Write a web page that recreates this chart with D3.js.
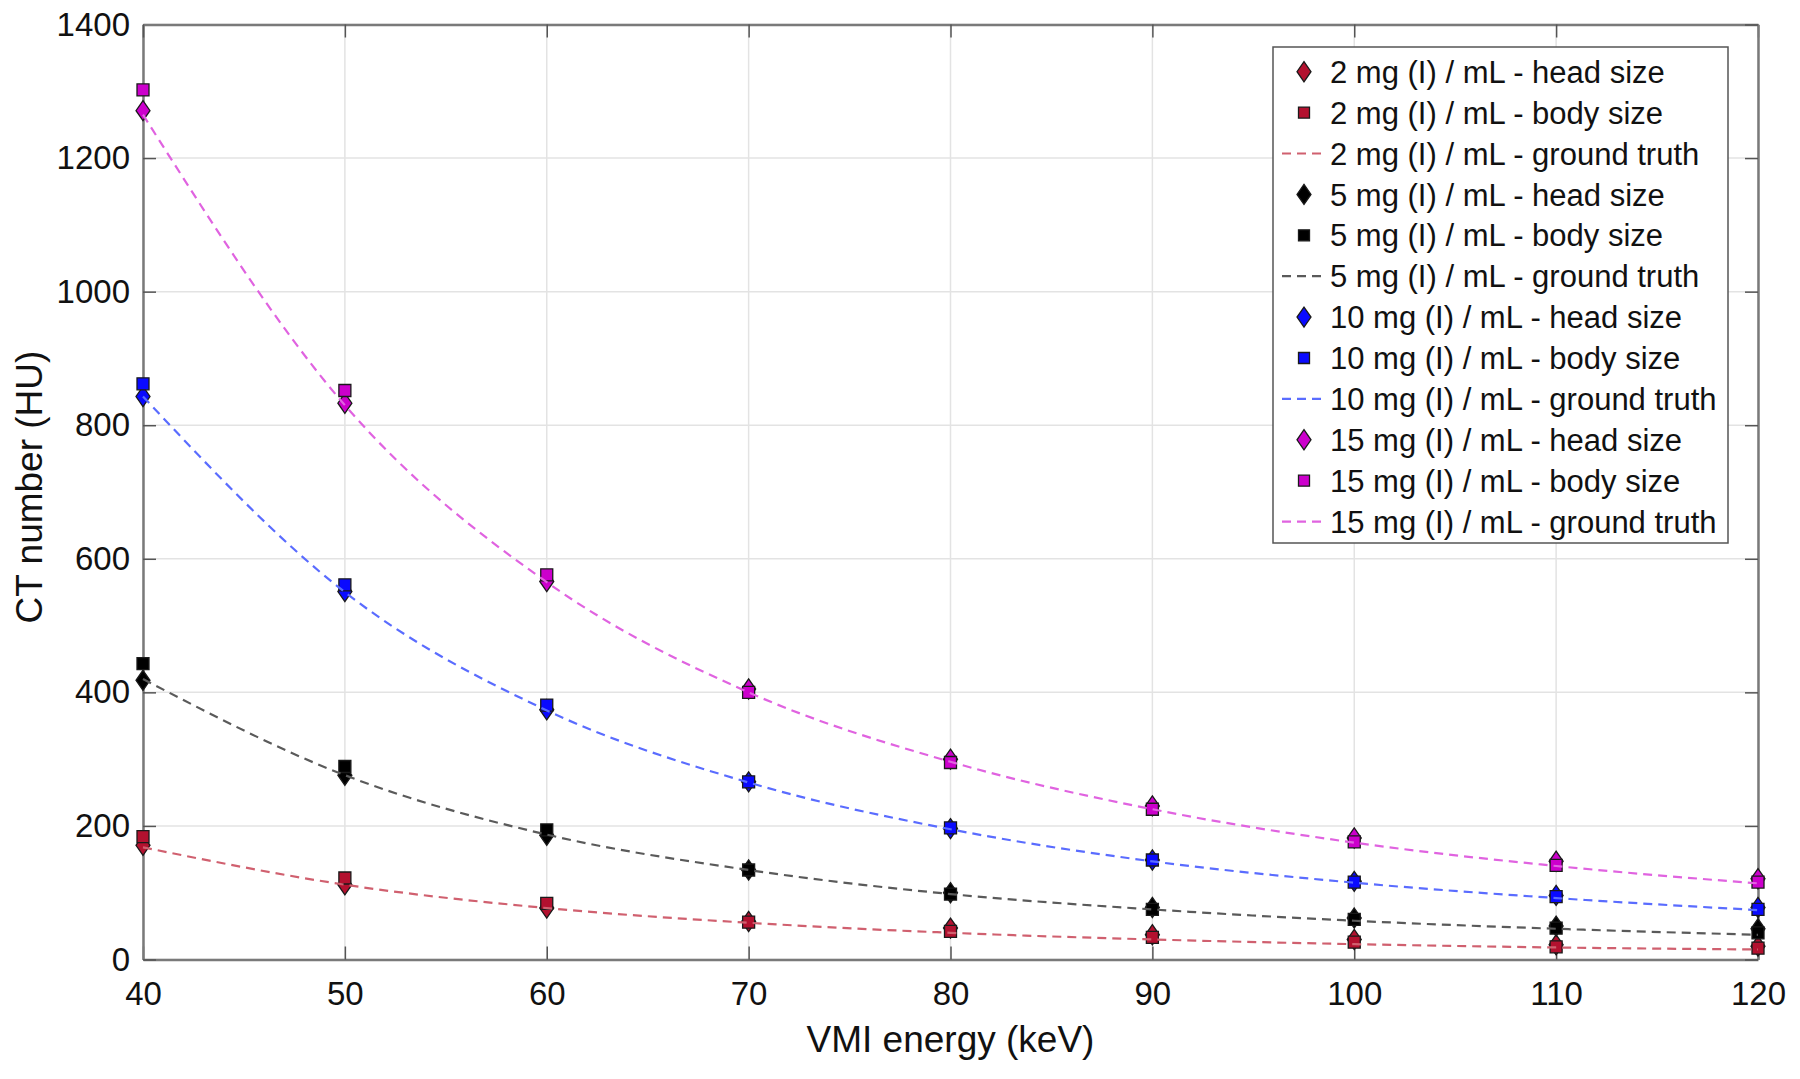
<!DOCTYPE html>
<html>
<head>
<meta charset="utf-8">
<script src="https://cdn.jsdelivr.net/npm/d3@7/dist/d3.min.js"></script>
<style>
  html, body { margin: 0; padding: 0; background: #ffffff; }
  svg { display: block; }
  text { font-family: "Liberation Sans", Arial, Helvetica, sans-serif; fill: #111; }
</style>
</head>
<body>
<svg id="chart" width="1800" height="1079"></svg>
<script>
// ---------------- DATA ----------------
const energies = [40, 50, 60, 70, 80, 90, 100, 110, 120];
const xTicks = [40, 50, 60, 70, 80, 90, 100, 110, 120];
const yTicks = [0, 200, 400, 600, 800, 1000, 1200, 1400];

const head2  = [171, 112, 77, 57, 47, 37, 30, 22, 20];
const body2  = [184, 122, 84, 56, 42, 33, 26, 19, 17];
const truth2 = [168, 112, 77, 55, 40, 30, 23, 18, 15];

const head5  = [418, 276, 186, 134, 100, 78, 62, 50, 46];
const body5  = [443, 289, 194, 134, 98, 75, 60, 47, 40];
const truth5 = [420, 276, 187, 134, 98, 75, 58, 46, 37];

const head10  = [843, 551, 374, 266, 196, 149, 117, 96, 78];
const body10  = [862, 561, 381, 266, 197, 149, 116, 94, 75];
const truth10 = [843, 550, 373, 265, 195, 147, 115, 92, 74];

const head15  = [1271, 833, 566, 405, 300, 230, 182, 147, 121];
const body15  = [1302, 852, 576, 400, 295, 225, 176, 141, 116];
const truth15 = [1265, 830, 565, 400, 296, 225, 175, 140, 114];

const seriesLabels = [
  "2 mg (I) / mL - head size", "2 mg (I) / mL - body size", "2 mg (I) / mL - ground truth",
  "5 mg (I) / mL - head size", "5 mg (I) / mL - body size", "5 mg (I) / mL - ground truth",
  "10 mg (I) / mL - head size", "10 mg (I) / mL - body size", "10 mg (I) / mL - ground truth",
  "15 mg (I) / mL - head size", "15 mg (I) / mL - body size", "15 mg (I) / mL - ground truth"
];
const xTitle = "VMI energy (keV)";
const yTitle = "CT number (HU)";

// ---------------- STYLE / LAYOUT ----------------
const groups = [
  { head: head2,  body: body2,  truth: truth2,  fill: "#b3112f", line: "#d0606f" },
  { head: head5,  body: body5,  truth: truth5,  fill: "#000000", line: "#5a5a5a" },
  { head: head10, body: body10, truth: truth10, fill: "#0a0aff", line: "#5a6cff" },
  { head: head15, body: body15, truth: truth15, fill: "#cc00cc", line: "#e063e0" }
];

const L = 143, R = 1758, T = 24.5, B = 959.5;
const svg = d3.select("#chart");

const x = d3.scaleLinear().domain([40, 120]).range([L, R]);
const y = d3.scaleLinear().domain([0, 1400]).range([B, T]);

// background
svg.append("rect").attr("x", L).attr("y", T).attr("width", R - L).attr("height", B - T).attr("fill", "#fff");

// grid
const grid = svg.append("g").attr("class", "grid");
grid.selectAll("line.gx").data(xTicks).join("line")
  .attr("x1", d => x(d)).attr("x2", d => x(d)).attr("y1", T).attr("y2", B)
  .attr("stroke", "#e3e3e3").attr("stroke-width", 1.5);
grid.selectAll("line.gy").data(yTicks).join("line")
  .attr("y1", d => y(d)).attr("y2", d => y(d)).attr("x1", L).attr("x2", R)
  .attr("stroke", "#e3e3e3").attr("stroke-width", 1.5);

// axes
const axisColor = "#7a7a7a";
const xAxis = svg.append("g").attr("transform", `translate(0,${B})`)
  .call(d3.axisBottom(x).tickValues(xTicks).tickSizeInner(-13).tickSizeOuter(0).tickPadding(22).tickFormat(d3.format("d")));
const yAxis = svg.append("g").attr("transform", `translate(${L},0)`)
  .call(d3.axisLeft(y).tickValues(yTicks).tickSizeInner(-13).tickSizeOuter(0).tickPadding(13).tickFormat(d3.format("d")));
const xTop = svg.append("g").attr("transform", `translate(0,${T})`)
  .call(d3.axisTop(x).tickValues(xTicks).tickSizeInner(-13).tickSizeOuter(0).tickFormat(""));
const yRight = svg.append("g").attr("transform", `translate(${R},0)`)
  .call(d3.axisRight(y).tickValues(yTicks).tickSizeInner(-13).tickSizeOuter(0).tickFormat(""));

[xAxis, yAxis, xTop, yRight].forEach(g => {
  g.select(".domain").attr("stroke", axisColor).attr("stroke-width", 2.5);
  g.selectAll(".tick line").attr("stroke", "#555").attr("stroke-width", 1.5);
  g.selectAll(".tick text").style("font-family", "'Liberation Sans', Arial, sans-serif")
    .style("font-size", "33px").attr("fill", "#111");
});
xAxis.selectAll(".tick text").attr("dy", "0.71em");

// axis titles
svg.append("text").attr("x", (L + R) / 2).attr("y", 1052).attr("text-anchor", "middle")
  .style("font-size", "37px").text(xTitle);
svg.append("text").attr("transform", `translate(42,487) rotate(-90)`).attr("text-anchor", "middle")
  .style("font-size", "37px").text(yTitle);

// symbols
const diamond = (s) => `M0,${-s * 0.72}L${s * 0.5},0L0,${s * 0.72}L${-s * 0.5},0Z`;
const square = (s) => `M${-s / 2},${-s / 2}H${s / 2}V${s / 2}H${-s / 2}Z`;

const line = d3.line().x((d, i) => x(energies[i])).y(d => y(d)).curve(d3.curveMonotoneX);

const plot = svg.append("g");
groups.forEach(g => {
  plot.append("g").selectAll("path").data(g.head).join("path")
    .attr("d", diamond(14)).attr("transform", (d, i) => `translate(${x(energies[i])},${y(d)})`)
    .attr("fill", g.fill).attr("stroke", "#1a1a1a").attr("stroke-width", 1.3);
  plot.append("g").selectAll("path").data(g.body).join("path")
    .attr("d", square(12)).attr("transform", (d, i) => `translate(${x(energies[i])},${y(d)})`)
    .attr("fill", g.fill).attr("stroke", "#1a1a1a").attr("stroke-width", 1.3);
  plot.append("path").datum(g.truth).attr("d", line)
    .attr("fill", "none").attr("stroke", g.line).attr("stroke-width", 2.2)
    .attr("stroke-dasharray", "9,6");
});

// legend
const lg = svg.append("g");
lg.append("rect").attr("x", 1273).attr("y", 47).attr("width", 455).attr("height", 496)
  .attr("fill", "#fff").attr("stroke", "#555").attr("stroke-width", 1.5);
seriesLabels.forEach((lab, k) => {
  const gi = Math.floor(k / 3), kind = k % 3;
  const cy = 71.7 + k * 40.9;
  const g = groups[gi];
  if (kind === 0) {
    lg.append("path").attr("d", diamond(14)).attr("transform", `translate(1304,${cy})`)
      .attr("fill", g.fill).attr("stroke", "#1a1a1a").attr("stroke-width", 1.3);
  } else if (kind === 1) {
    lg.append("path").attr("d", square(11)).attr("transform", `translate(1304,${cy})`)
      .attr("fill", g.fill).attr("stroke", "#1a1a1a").attr("stroke-width", 1.3);
  } else {
    lg.append("line").attr("x1", 1282).attr("x2", 1326).attr("y1", cy).attr("y2", cy)
      .attr("stroke", g.line).attr("stroke-width", 2.2).attr("stroke-dasharray", "9,6");
  }
  lg.append("text").attr("x", 1330).attr("y", cy).attr("dy", "0.36em")
    .style("font-size", "31px").text(lab);
});
</script>
</body>
</html>
